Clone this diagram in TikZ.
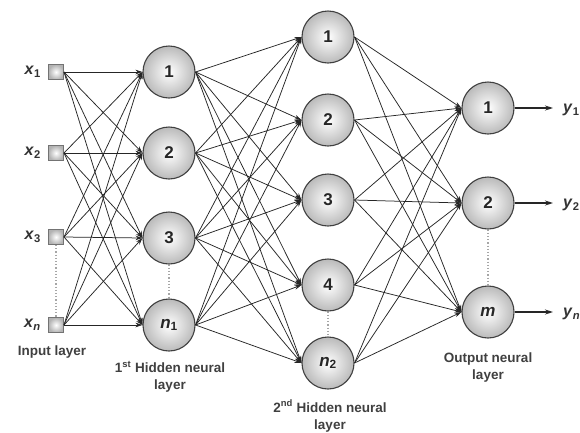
\documentclass[tikz,border=0pt]{standalone}
\usepackage{fontspec}
\setmainfont{Liberation Sans}
\usetikzlibrary{arrows.meta}
\begin{document}
\begin{tikzpicture}[x=1pt,y=-1pt,
 neuron/.style={circle,minimum size=52pt,inner sep=0pt,draw=black!75,line width=1.1pt,inner color=white,outer color=black!27,font=\bfseries\fontsize{17}{17}\selectfont,text=black!85},
 inbox/.style={rectangle,minimum size=15pt,inner sep=0pt,draw=black!55,line width=1pt,inner color=white,outer color=black!30},
 conn/.style={-{Stealth[length=7pt,width=4.5pt]},line width=0.75pt,draw=black!85},
 outarr/.style={-{Stealth[length=8pt,width=5pt]},line width=1.2pt,draw=black!85},
 dots/.style={dotted,line width=1.2pt,draw=black!35},
 lay/.style={font=\bfseries\fontsize{13.5}{17}\selectfont,text=black!75,align=center},
 xl/.style={font=\bfseries\fontsize{16}{16}\selectfont,text=black!80,inner sep=0pt}
]
\useasboundingbox (0,0) rectangle (580,432);
\fill[white] (0,0) rectangle (580,432);
% input layer
\foreach \n/\y in {1/72,2/153,3/237,4/325} \node[inbox] (i\n) at (56,\y) {};
\node[xl,anchor=east] (lx1) at (41,72) {\textit{x}\textsubscript{1}};
\node[xl,anchor=east] (lx2) at (41,153) {\textit{x}\textsubscript{2}};
\node[xl,anchor=east] (lx3) at (41,237) {\textit{x}\textsubscript{3}};
\node[xl,anchor=east] (lx4) at (41,325) {\textit{x}\textsubscript{\textit{n}}};
% hidden 1
\node[neuron] (a1) at (169,72) {1};
\node[neuron] (a2) at (169,153) {2};
\node[neuron] (a3) at (169,238) {3};
\node[neuron] (a4) at (169,325) {\textit{n}\textsubscript{1}};
% hidden 2
\node[neuron] (b1) at (328,37) {1};
\node[neuron] (b2) at (328,120) {2};
\node[neuron] (b3) at (328,200) {3};
\node[neuron] (b4) at (328,285) {4};
\node[neuron] (b5) at (328,363) {\textit{n}\textsubscript{2}};
% output
\node[neuron] (c1) at (488,108) {1};
\node[neuron] (c2) at (488,203) {2};
\node[neuron] (c3) at (488,312) {\textit{m}};
% connections
\foreach \s in {1,...,4} \foreach \t in {1,...,4} \draw[conn] (i\s.east) -- (a\t.west);
\foreach \s in {1,...,4} \foreach \t in {1,...,5} \draw[conn] (a\s.east) -- (b\t.west);
\foreach \s in {1,...,5} \foreach \t in {1,...,3} \draw[conn] (b\s.east) -- (c\t.west);
% outputs
\coordinate (o1) at (553,108);
\coordinate (o2) at (553,203);
\coordinate (o3) at (553,312);
\draw[outarr] (c1.east) -- (o1);
\draw[outarr] (c2.east) -- (o2);
\draw[outarr] (c3.east) -- (o3);
\node[xl,anchor=west] (ly1) at (563,110) {\textit{y}\textsubscript{1}};
\node[xl,anchor=west] (ly2) at (563,205) {\textit{y}\textsubscript{2}};
\node[xl,anchor=west] (ly3) at (563,314) {\textit{y}\textsubscript{\textit{n}}};
% dotted
\draw[dots] (i3.south) -- (i4.north);
\draw[dots] (a3.south) -- (a4.north);
\draw[dots] (b4.south) -- (b5.north);
\draw[dots] (c2.south) -- (c3.north);
% layer labels
\node[lay] (l1) at (52,352) {Input layer};
\node[lay] (l2) at (170,377) {1\textsuperscript{st} Hidden neural\\layer};
\node[lay] (l3) at (330,416) {2\textsuperscript{nd} Hidden neural\\layer};
\node[lay] (l4) at (488,367) {Output neural\\layer};
\end{tikzpicture}
\end{document}
